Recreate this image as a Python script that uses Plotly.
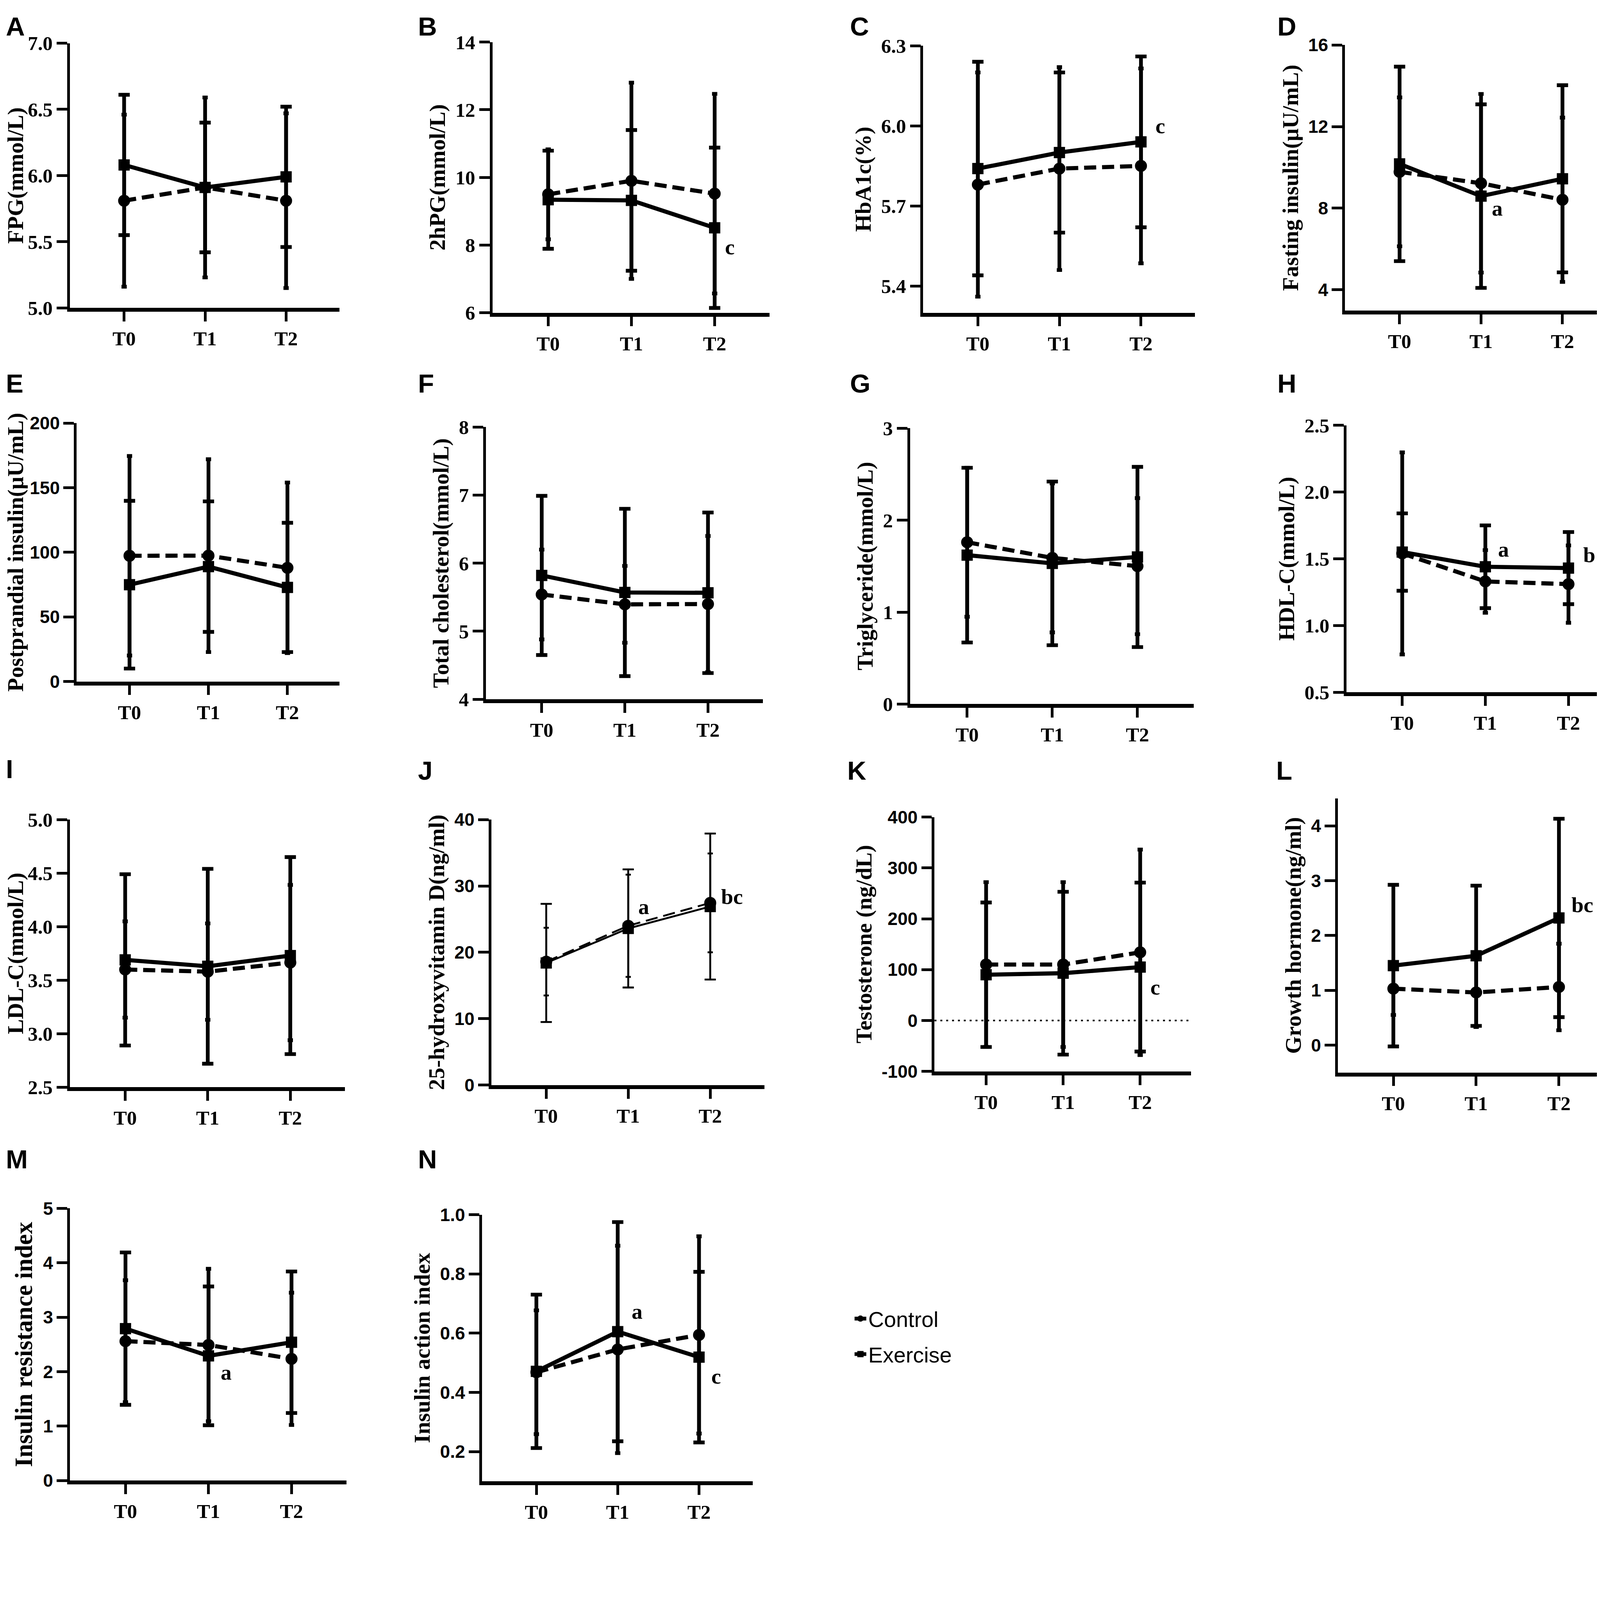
import plotly.graph_objects as go

# the page renders about 4% larger than the css size, sits 8px in and lands
# ~33px lower than asked, so every reference pixel goes through px()/fx()/fy()
SC = 1 / 1.04
PAD = 8
VOFF = 33
FW = round(4328 * SC) - PAD
FH = round(4100 * SC) - PAD

TIMES = ["T0", "T1", "T2"]

# mean and SD (Control = dashed/circle, Exercise = solid/square)
fpg_control = [5.81, 5.91, 5.81]
fpg_control_sd = [0.65, 0.68, 0.66]
fpg_exercise = [6.08, 5.91, 5.99]
fpg_exercise_sd = [0.53, 0.49, 0.53]

hpg_control = [9.50, 9.90, 9.52]
hpg_control_sd = [1.33, 2.90, 2.95]
hpg_exercise = [9.34, 9.32, 8.51]
hpg_exercise_sd = [1.45, 2.08, 2.37]

hba1c_control = [5.78, 5.84, 5.85]
hba1c_control_sd = [0.42, 0.38, 0.365]
hba1c_exercise = [5.84, 5.90, 5.94]
hba1c_exercise_sd = [0.40, 0.30, 0.32]

fins_control = [9.78, 9.22, 8.41]
fins_control_sd = [3.65, 4.38, 4.03]
fins_exercise = [10.17, 8.59, 9.44]
fins_exercise_sd = [4.77, 4.50, 4.59]

pins_control = [97.3, 97.4, 88.0]
pins_control_sd = [77.2, 74.6, 66.0]
pins_exercise = [74.9, 88.9, 72.8]
pins_exercise_sd = [64.9, 50.5, 50.0]

tc_control = [5.54, 5.395, 5.40]
tc_control_sd = [0.66, 0.565, 1.00]
tc_exercise = [5.82, 5.57, 5.565]
tc_exercise_sd = [1.17, 1.23, 1.18]

tg_control = [1.76, 1.59, 1.50]
tg_control_sd = [0.81, 0.81, 0.74]
tg_exercise = [1.62, 1.53, 1.60]
tg_exercise_sd = [0.95, 0.89, 0.98]

hdl_control = [1.54, 1.33, 1.31]
hdl_control_sd = [0.757, 0.235, 0.29]
hdl_exercise = [1.55, 1.44, 1.43]
hdl_exercise_sd = [0.29, 0.31, 0.27]

ldl_control = [3.60, 3.58, 3.665]
ldl_control_sd = [0.45, 0.45, 0.725]
ldl_exercise = [3.69, 3.63, 3.73]
ldl_exercise_sd = [0.80, 0.91, 0.92]

vitd_control = [18.6, 24.0, 27.45]
vitd_control_sd = [5.1, 7.7, 7.45]
vitd_exercise = [18.4, 23.6, 26.9]
vitd_exercise_sd = [8.9, 8.9, 11.0]

testo_control = [110, 110, 134]
testo_control_sd = [162, 162, 202]
testo_exercise = [90, 93, 105]
testo_exercise_sd = [142, 160, 166]

gh_control = [1.03, 0.96, 1.06]
gh_control_sd = [0.48, 0.63, 0.79]
gh_exercise = [1.45, 1.63, 2.32]
gh_exercise_sd = [1.475, 1.28, 1.81]

iri_control = [2.56, 2.49, 2.235]
iri_control_sd = [1.12, 1.40, 1.215]
iri_exercise = [2.79, 2.29, 2.54]
iri_exercise_sd = [1.40, 1.275, 1.30]

iai_control = [0.468, 0.545, 0.594]
iai_control_sd = [0.209, 0.35, 0.333]
iai_exercise = [0.471, 0.605, 0.519]
iai_exercise_sd = [0.259, 0.37, 0.288]

testo_ticks = [-100, 0, 100, 200, 300, 400]
testo_ticktext = ["-100", "0", "100", "200", "300", "400"]

# letter, y title, control, control sd, exercise, exercise sd
PANELS = [
    ("A", "FPG(mmol/L)", fpg_control, fpg_control_sd, fpg_exercise, fpg_exercise_sd),
    ("B", "2hPG(mmol/L)", hpg_control, hpg_control_sd, hpg_exercise, hpg_exercise_sd),
    ("C", "HbA1c(%)", hba1c_control, hba1c_control_sd, hba1c_exercise, hba1c_exercise_sd),
    ("D", "Fasting insulin(μU/mL)", fins_control, fins_control_sd, fins_exercise, fins_exercise_sd),
    ("E", "Postprandial insulin(μU/mL)", pins_control, pins_control_sd, pins_exercise, pins_exercise_sd),
    ("F", "Total cholesterol(mmol/L)", tc_control, tc_control_sd, tc_exercise, tc_exercise_sd),
    ("G", "Triglyceride(mmol/L)", tg_control, tg_control_sd, tg_exercise, tg_exercise_sd),
    ("H", "HDL-C(mmol/L)", hdl_control, hdl_control_sd, hdl_exercise, hdl_exercise_sd),
    ("I", "LDL-C(mmol/L)", ldl_control, ldl_control_sd, ldl_exercise, ldl_exercise_sd),
    ("J", "25-hydroxyvitamin D(ng/ml)", vitd_control, vitd_control_sd, vitd_exercise, vitd_exercise_sd),
    ("K", "Testosterone (ng/dL)", testo_control, testo_control_sd, testo_exercise, testo_exercise_sd),
    ("L", "Growth hormone(ng/ml)", gh_control, gh_control_sd, gh_exercise, gh_exercise_sd),
    ("M", "Insulin resistance index", iri_control, iri_control_sd, iri_exercise, iri_exercise_sd),
    ("N", "Insulin action index", iai_control, iai_control_sd, iai_exercise, iai_exercise_sd),
]

# significance letters: panel index, text, time point, y value, x shift (ref px)
SIG_LABELS = [
    (1, "c", "T2", 7.95, 40),
    (2, "c", "T2", 6.0, 52),
    (3, "a", "T1", 8.0, 43),
    (7, "a", "T1", 1.57, 48),
    (7, "b", "T2", 1.53, 55),
    (9, "a", "T1", 26.9, 41),
    (9, "bc", "T2", 28.4, 58),
    (10, "c", "T2", 66, 40),
    (11, "bc", "T2", 2.56, 63),
    (12, "a", "T1", 1.99, 47),
    (13, "a", "T1", 0.673, 52),
    (13, "c", "T2", 0.455, 46),
]

# reference pixels: y-axis x, x-axis end, top, bottom, y range, tick0, dtick, tickformat
GEOM = [
    (186, 904, 121, 836, [5.0, 7.0], 5.0, 0.5, ".1f"),
    (1311, 2049, 118, 849, [6, 14], 6, 2, ""),
    (2458, 3181, 128, 849, [5.30, 6.3], 5.4, 0.3, ".1f"),
    (3581, 4303, 126, 843, [2.98, 16], 4, 4, ""),
    (204, 904, 1147, 1845, [0, 200], 0, 50, ""),
    (1294, 2031, 1158, 1893, [4, 8], 4, 1, ""),
    (2423, 3178, 1161, 1906, [0, 3], 0, 1, ""),
    (3585, 4322, 1153, 1874, [0.5, 2.5], 0.5, 0.5, ".1f"),
    (186, 918, 2218, 2941, [2.5, 5.0], 2.5, 0.5, ".1f"),
    (1308, 2035, 2218, 2935, [0, 40], 0, 10, ""),
    (2488, 3171, 2211, 2898, [-100, 400], None, None, ""),
    (3562, 4296, 2161, 2901, [-0.5, 4.5], 0, 1, ""),
    (186, 922, 3268, 4003, [0, 5], 0, 1, ""),
    (1283, 2004, 3285, 4005, [0.1, 1.0], 0.2, 0.2, ".1f"),
]

# panels whose y tick numbers are set in a sans face
SANS_TICK_PANELS = {"D", "E", "J", "K", "L", "M", "N"}
# a couple of axis titles are set larger in the original
TITLE_SIZE = {"M": 65}

LETTER_POS = [
    (14, 49), (1111, 49), (2261, 54), (3399, 54),
    (14, 1040), (1111, 1040), (2261, 1040), (3399, 1040),
    (14, 2081), (1111, 2085), (2254, 2085), (3396, 2085),
    (14, 3135), (1111, 3135),
]

SERIF = "Liberation Serif"
SANS = "Liberation Sans"


def px(v):
    return v * SC


def fx(v):
    return min(1.0, max(0.0, (v * SC - PAD) / FW))


def fy(v, floor=0.0):
    css = max(floor, (v - VOFF) * SC - PAD)
    return min(1.0, max(0.0, 1 - css / FH))


DASH = f"{px(32):.0f}px,{px(16):.0f}px"

fig = go.Figure()
annotations = []
shapes = []

for i, (letter, ytitle, ctrl, ctrl_sd, ex, ex_sd) in enumerate(PANELS):
    n = i + 1
    xa = "x" if n == 1 else f"x{n}"
    ya = "y" if n == 1 else f"y{n}"
    x0, x1, ytop, ybot, yrange, tick0, dtick, fmt = GEOM[i]
    thin = letter == "J"
    lw = px(5) if thin else px(11)
    ew = px(5) if thin else px(10)

    fig.add_trace(go.Scatter(
        x=TIMES, y=ctrl, mode="lines+markers", xaxis=xa, yaxis=ya,
        line=dict(color="black", width=lw, dash=DASH),
        marker=dict(symbol="circle", size=px(32), color="black"),
        error_y=dict(type="data", array=ctrl_sd, color="black", thickness=ew, width=px(7)),
        showlegend=False, cliponaxis=False,
    ))
    fig.add_trace(go.Scatter(
        x=TIMES, y=ex, mode="lines+markers", xaxis=xa, yaxis=ya,
        line=dict(color="black", width=lw),
        marker=dict(symbol="square", size=px(30), color="black"),
        error_y=dict(type="data", array=ex_sd, color="black", thickness=ew, width=px(15)),
        showlegend=False, cliponaxis=False,
    ))

    if letter in SANS_TICK_PANELS:
        yfont = dict(family=SANS, size=px(48), color="black", weight="bold")
    else:
        yfont = dict(family=SERIF, size=px(53), color="black", weight="bold")

    xkey = "xaxis" if n == 1 else f"xaxis{n}"
    ykey = "yaxis" if n == 1 else f"yaxis{n}"
    yax = dict(
        domain=[fy(ybot), fy(ytop)], anchor=xa, range=yrange,
        showline=True, linecolor="black", linewidth=px(7),
        ticks="outside", ticklen=px(28), tickwidth=px(7), tickcolor="black",
        showgrid=False, zeroline=False, tickfont=yfont,
        title=dict(text=ytitle, standoff=px(10),
                   font=dict(family=SERIF, size=px(TITLE_SIZE.get(letter, 60)),
                             color="black", weight="bold")),
    )
    if dtick is None:
        yax.update(tickmode="array", tickvals=testo_ticks, ticktext=testo_ticktext)
    else:
        yax.update(tickmode="linear", tick0=tick0, dtick=dtick, tickformat=fmt)
    fig.layout[ykey] = yax
    fig.layout[xkey] = dict(
        domain=[fx(x0), fx(x1)], anchor=ya, type="category",
        categoryorder="array", categoryarray=TIMES, range=[-0.67, 2.66],
        showline=True, linecolor="black", linewidth=px(10),
        ticks="outside", ticklen=px(26), tickwidth=px(7), tickcolor="black",
        showgrid=False, zeroline=False,
        tickfont=dict(family=SERIF, size=px(53), color="black", weight="bold"),
    )

    lx, ly = LETTER_POS[i]
    annotations.append(dict(
        text=letter, xref="paper", yref="paper", x=fx(lx), y=fy(ly, floor=px(34)),
        xanchor="left", yanchor="middle", showarrow=False,
        font=dict(family=SANS, size=px(70), color="black", weight="bold"),
    ))

# dotted zero reference in panel K
shapes.append(dict(
    type="line", xref="x11 domain", yref="y11", x0=0, x1=1, y0=0, y1=0,
    line=dict(color="black", width=px(4), dash=f"{px(5):.0f}px,{px(10):.0f}px"),
))

for idx, txt, t, yv, shift in SIG_LABELS:
    n = idx + 1
    annotations.append(dict(
        text=txt, xref=f"x{n}", yref=f"y{n}", x=t, y=yv, xshift=px(shift),
        showarrow=False, xanchor="center", yanchor="middle",
        font=dict(family=SERIF, size=px(58), color="black", weight="bold"),
    ))

# legend entries
fig.add_trace(go.Scatter(
    x=[None], y=[None], mode="lines+markers", name="Control", legendgroup="c",
    line=dict(color="black", width=px(10)), marker=dict(symbol="circle", size=px(32), color="black"),
))
fig.add_trace(go.Scatter(
    x=[None], y=[None], mode="lines+markers", name="Exercise", legendgroup="e",
    line=dict(color="black", width=px(10)), marker=dict(symbol="square", size=px(30), color="black"),
))

fig.update_layout(
    width=FW, height=FH, margin=dict(l=0, r=0, t=0, b=0),
    paper_bgcolor="white", plot_bgcolor="white",
    annotations=annotations, shapes=shapes,
    showlegend=True,
    legend=dict(
        x=fx(2270), y=fy(3614), xanchor="left", yanchor="middle",
        font=dict(family=SANS, size=px(58), color="black"),
        tracegroupgap=px(16), bgcolor="rgba(0,0,0,0)",
    ),
)

fig.write_html("out.html")
